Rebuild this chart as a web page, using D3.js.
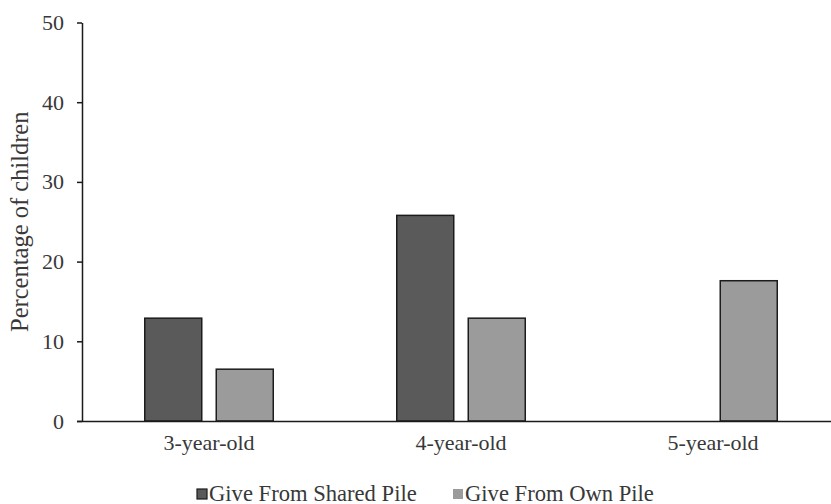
<!DOCTYPE html>
<html>
<head>
<meta charset="utf-8">
<script src="https://cdn.jsdelivr.net/npm/d3@7"></script>
<style>
  html, body { margin: 0; padding: 0; background: #fff; }
  svg { display: block; }
  text { font-family: "Liberation Serif", "Times New Roman", serif; fill: #383838; }
</style>
</head>
<body>
<svg id="chart" width="831" height="504"></svg>
<script>
const categories = ["3-year-old", "4-year-old", "5-year-old"];
const series = ["Give From Shared Pile", "Give From Own Pile"];
const sharedValues = [12.9, 25.8, 0];
const ownValues = [6.5, 12.9, 17.6];
const yTicks = [0, 10, 20, 30, 40, 50];
const yTitle = "Percentage of children";
const colors = ["#5a5a5a", "#9b9b9b"];

const valuesBySeries = [sharedValues, ownValues];
const data = categories.map((c, i) => ({
  category: c,
  values: series.map((s, j) => ({ series: s, value: valuesBySeries[j][i], idx: j }))
}));

const svg = d3.select("#chart");
const plotLeft = 82, plotTop = 22.5, plotBottom = 421;

const y = d3.scaleLinear().domain([0, 50]).range([plotBottom, plotTop]);
const x0 = d3.scaleBand().domain(categories).range([83, 839]).padding(0);
const groupW = 128.5;
const x1 = d3.scaleBand().domain(series).range([0, groupW]).paddingInner(14.5 / 71.5).paddingOuter(0);

// bars
const groups = svg.append("g").selectAll("g").data(data).join("g")
  .attr("transform", d => `translate(${x0(d.category) + (x0.bandwidth() - groupW) / 2},0)`);
groups.selectAll("rect").data(d => d.values.filter(v => v.value > 0)).join("rect")
  .attr("x", d => x1(d.series))
  .attr("y", d => y(d.value))
  .attr("width", x1.bandwidth())
  .attr("height", d => y(0) - y(d.value))
  .attr("fill", d => colors[d.idx])
  .attr("stroke", "#1c1c1c")
  .attr("stroke-width", 1.5);

// y axis
const yAxis = svg.append("g").attr("transform", `translate(${plotLeft},0)`)
  .call(d3.axisLeft(y).tickValues(yTicks).tickSize(5).tickPadding(13).tickSizeOuter(0));
yAxis.select(".domain").attr("stroke", "#1a1a1a").attr("stroke-width", 1.5);
yAxis.selectAll(".tick line").attr("stroke", "#1a1a1a").attr("stroke-width", 1.5);
yAxis.selectAll(".tick text").style("font-size", "22px").attr("fill", "#383838")
  .style("font-family", "'Liberation Serif', serif");

// x axis
const xAxis = svg.append("g").attr("transform", `translate(0,${plotBottom})`)
  .call(d3.axisBottom(x0).tickSize(0).tickPadding(13).tickSizeOuter(0));
xAxis.select(".domain").attr("d", `M${plotLeft - 5},0.5H831`).attr("stroke", "#1a1a1a").attr("stroke-width", 1.5);
xAxis.selectAll(".tick text")
  .style("font-size", "22px").attr("fill", "#383838")
  .style("font-family", "'Liberation Serif', serif");

// y title
svg.append("text")
  .attr("transform", `translate(28,${(plotTop + plotBottom) / 2}) rotate(-90)`)
  .attr("text-anchor", "middle")
  .style("font-size", "24.5px")
  .text(yTitle);

// legend
const legendItems = [
  { label: series[0], color: colors[0], x: 197, stroke: true },
  { label: series[1], color: colors[1], x: 453, stroke: false }
];
const lg = svg.append("g").selectAll("g").data(legendItems).join("g")
  .attr("transform", d => `translate(${d.x},489)`);
lg.append("rect")
  .attr("width", 10).attr("height", 10)
  .attr("fill", d => d.color)
  .attr("stroke", d => d.stroke ? "#1c1c1c" : "none")
  .attr("stroke-width", 1.2);
lg.append("text")
  .attr("x", 12).attr("y", 11.5)
  .style("font-size", "22.6px")
  .text(d => d.label);
</script>
</body>
</html>
